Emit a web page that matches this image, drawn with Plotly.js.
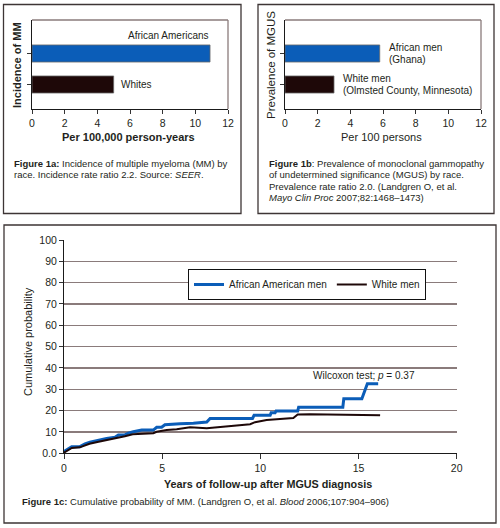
<!DOCTYPE html>
<html><head><meta charset="utf-8">
<script src="https://cdn.plot.ly/plotly-3.0.1.min.js"></script>
<style>html,body{margin:0;padding:0;background:#fff;} #chart{width:500px;height:528px;}</style>
</head><body><div id="chart"></div>
<script>
// ---------- Figure 1a ----------
const raceA = ['Whites', 'African Americans'];
const incidence = [5.0, 10.9];
// ---------- Figure 1b ----------
const menB = ['White men', 'African men'];
const menBSub = ['(Olmsted County, Minnesota)', '(Ghana)'];
const prevalence = [3.0, 5.8];
// ---------- Figure 1c ----------
const seriesNames = ['African American men', 'White men'];
const aaYears = [0, 0.39, 0.81, 1.07, 1.32, 1.66, 2.17, 2.6, 2.77, 3.1, 3.28, 3.53, 3.96, 4.55, 4.72, 4.97, 5.14, 5.91, 6.59, 7.27, 7.44, 9.6, 9.68, 10.5, 10.55, 10.75, 10.8, 11.9, 11.95, 14.2, 14.25, 15.17, 15.45, 16.0];
const aaProb  = [0.8, 3.1, 3.1, 4.4, 5.2, 5.9, 7.0, 7.5, 8.6, 8.6, 9.4, 10.1, 10.9, 10.9, 12.2, 12.2, 13.4, 13.9, 14.1, 14.7, 16.3, 16.3, 17.8, 17.8, 19.0, 19.0, 19.8, 19.8, 21.6, 21.6, 25.6, 25.6, 32.6, 32.6];
const whYears = [0, 0.4, 0.8, 1.3, 1.7, 2.2, 2.6, 3.1, 3.5, 3.87, 4.55, 4.72, 5.23, 5.74, 6.25, 6.42, 7.27, 8.29, 8.97, 9.48, 9.73, 10.32, 11.0, 11.68, 11.9, 12.53, 16.1];
const whProb  = [0.3, 2.5, 2.8, 4.5, 5.3, 6.2, 7.0, 8.0, 8.9, 9.0, 9.4, 10.1, 10.9, 11.3, 12.0, 12.2, 11.8, 12.6, 13.3, 13.6, 14.6, 15.6, 16.1, 16.5, 18.2, 18.3, 17.8];
const barTicks = [0, 2, 4, 6, 8, 10, 12];
const yearTicks = [0, 5, 10, 15, 20];
const probTicks = [0, 10, 20, 30, 40, 50, 60, 70, 80, 90, 100];
const probTickText = ['0.0', '10', '20', '30', '40', '50', '60', '70', '80', '90', '100'];

const BLUE = '#0b5db8', DARK = '#1e0808', TXT = '#231f20', FRAME = '#8a7b7b';
const SANS = '"Liberation Sans", Arial, sans-serif';
const W = 500, H = 528;
const px = v => v / W, py = v => 1 - v / H;

const traces = [
  {type: 'bar', orientation: 'h', x: incidence, y: raceA, xaxis: 'x', yaxis: 'y',
   marker: {color: [DARK, BLUE], line: {color: '#6a6a6a', width: 0.8}}, width: 0.55, showlegend: false, hoverinfo: 'x+y'},
  {type: 'bar', orientation: 'h', x: prevalence, y: menB, xaxis: 'x2', yaxis: 'y2',
   marker: {color: [DARK, BLUE], line: {color: '#6a6a6a', width: 0.8}}, width: 0.55, showlegend: false, hoverinfo: 'x+y'},
  {type: 'scatter', mode: 'lines', name: seriesNames[0], x: aaYears, y: aaProb, xaxis: 'x3', yaxis: 'y3',
   line: {color: BLUE, width: 3}},
  {type: 'scatter', mode: 'lines', name: seriesNames[1], x: whYears, y: whProb, xaxis: 'x3', yaxis: 'y3',
   line: {color: DARK, width: 2}}
];

const tickFont = {family: SANS, size: 10.5, color: TXT};
const barAxisX = (dom, anchor) => ({domain: dom, anchor: anchor, range: [0, 12], tickvals: barTicks,
  ticks: 'outside', ticklen: 4, tickcolor: '#333', showline: true, linecolor: '#1a1a1a', linewidth: 1,
  showgrid: false, zeroline: false, tickfont: tickFont, fixedrange: true});
const barAxisY = (dom, anchor, cats) => ({domain: dom, anchor: anchor, type: 'category',
  categoryorder: 'array', categoryarray: cats, range: [-0.79, 2.08], showticklabels: false,
  ticks: 'outside', ticklen: 4, tickcolor: '#333', showline: true, linecolor: '#1a1a1a', linewidth: 1,
  showgrid: false, zeroline: false, fixedrange: true});

const barDomY = [py(109), py(20)];

const ann = [];
function txt(x, y, text, o) {
  ann.push(Object.assign({xref: 'paper', yref: 'paper', x: x, y: y, text: text, showarrow: false,
    xanchor: 'left', yanchor: 'middle', font: {family: SANS, size: 9.5, color: TXT}}, o || {}));
}
const titleFont = {family: SANS, size: 11, color: TXT};
// Axis titles
txt(px(17), py(65), '<b>Incidence of MM</b>', {xanchor: 'center', textangle: -90, font: {family: SANS, size: 11, color: TXT}});
txt(px(128), py(137), '<b>Per 100,000 person-years</b>', {xanchor: 'center', font: titleFont});
txt(px(271), py(65), 'Prevalence of MGUS', {xanchor: 'center', textangle: -90, font: {family: SANS, size: 11.5, color: TXT}});
txt(px(381), py(137), 'Per 100 persons', {xanchor: 'center', font: titleFont});
txt(px(28), py(342), 'Cumulative probability', {xanchor: 'center', textangle: -90, font: titleFont});
txt(px(268), py(484), '<b>Years of follow-up after MGUS diagnosis</b>', {xanchor: 'center', font: {family: SANS, size: 10.8, color: TXT}});
// Captions
txt(px(12), py(163), '<b>Figure 1a:</b> Incidence of multiple myeloma (MM) by');
txt(px(12), py(174.5), 'race. Incidence rate ratio 2.2. Source: <i>SEER</i>.');
txt(px(267), py(163), '<b>Figure 1b</b>: Prevalence of monoclonal gammopathy');
txt(px(267), py(174.5), 'of undetermined significance (MGUS) by race.');
txt(px(267), py(186), 'Prevalence rate ratio 2.0. (Landgren O, et al.');
txt(px(267), py(197.5), '<i>Mayo Clin Proc</i> 2007;82:1468–1473)');
txt(px(20), py(501), '<b>Figure 1c:</b> Cumulative probability of MM. (Landgren O, et al. <i>Blood</i> 2006;107:904–906)');

// Bar labels (positions derived from data)
const lblFont = {family: SANS, size: 10, color: TXT};
ann.push({xref: 'x', yref: 'y', x: incidence[1] + 0.05, y: 1.57, text: raceA[1], showarrow: false, xanchor: 'right', yanchor: 'middle', font: lblFont});
ann.push({xref: 'x', yref: 'y', x: incidence[0] + 0.3, y: 0, text: raceA[0], showarrow: false, xanchor: 'left', yanchor: 'middle', font: lblFont});
for (let i = 0; i < 2; i++) {
  const off = i === 1 ? 0.45 : 0.43;
  ann.push({xref: 'x2', yref: 'y2', x: prevalence[i] + off, y: i, yshift: 5.5, text: menB[i], showarrow: false, xanchor: 'left', yanchor: 'middle', font: lblFont});
  ann.push({xref: 'x2', yref: 'y2', x: prevalence[i] + off, y: i, yshift: -6, text: menBSub[i], showarrow: false, xanchor: 'left', yanchor: 'middle', font: lblFont});
}
ann.push({xref: 'x3', yref: 'y3', x: 15.28, y: 36.7, text: 'Wilcoxon test; <i>p</i> = 0.37', showarrow: false, xanchor: 'center', yanchor: 'middle', font: lblFont});

const shapes = [];
function box(x0, y0, x1, y1) {
  shapes.push({type: 'rect', xref: 'paper', yref: 'paper', x0: px(x0), x1: px(x1), y0: py(y1), y1: py(y0),
    line: {color: '#3d3535', width: 1.3}, fillcolor: 'rgba(0,0,0,0)', layer: 'below'});
}
box(3.5, 4.5, 241, 213.5);
box(258, 4.5, 494, 213.5);
box(4, 225, 496, 523);
// plot frames (top and right) of bar charts
[['x', 'y'], ['x2', 'y2']].forEach(([xa, ya]) => {
  shapes.push({type: 'line', xref: xa + ' domain', yref: ya + ' domain', x0: 0, x1: 1, y0: 1, y1: 1, line: {color: FRAME, width: 1.3}});
  shapes.push({type: 'line', xref: xa + ' domain', yref: ya + ' domain', x0: 1, x1: 1, y0: 0, y1: 1, line: {color: FRAME, width: 1.3}});
});

const layout = {
  width: W, height: H, margin: {l: 0, r: 0, t: 0, b: 0},
  paper_bgcolor: '#fff', plot_bgcolor: 'rgba(0,0,0,0)',
  font: {family: SANS, color: TXT},
  xaxis: barAxisX([px(32), px(228)], 'y'),
  yaxis: barAxisY(barDomY, 'x', raceA),
  xaxis2: barAxisX([px(285), px(481)], 'y2'),
  yaxis2: barAxisY(barDomY, 'x2', menB),
  xaxis3: {domain: [px(64), px(456.7)], anchor: 'y3', range: [0, 20], tickvals: yearTicks,
    ticks: 'outside', ticklen: 5, tickcolor: '#333', showline: true, linecolor: '#1a1a1a', linewidth: 1,
    showgrid: false, zeroline: false, tickfont: tickFont, fixedrange: true},
  yaxis3: {domain: [py(453.3), py(240)], anchor: 'x3', range: [0, 100], tickvals: probTicks, ticktext: probTickText,
    ticks: 'outside', ticklen: 4, tickcolor: '#333', showline: true, linecolor: '#1a1a1a', linewidth: 1,
    showgrid: true, gridcolor: FRAME, gridwidth: 1.3, zeroline: false, tickfont: tickFont, fixedrange: true},
  showlegend: true,
  legend: {x: px(188), y: py(269), xanchor: 'left', yanchor: 'top', orientation: 'h',
    bgcolor: '#fff', bordercolor: '#111', borderwidth: 1, font: {family: SANS, size: 10, color: TXT},
    itemwidth: 30, traceorder: 'normal'},
  annotations: ann, shapes: shapes
};

Plotly.newPlot('chart', traces, layout, {displayModeBar: false, staticPlot: true});
</script></body></html>
